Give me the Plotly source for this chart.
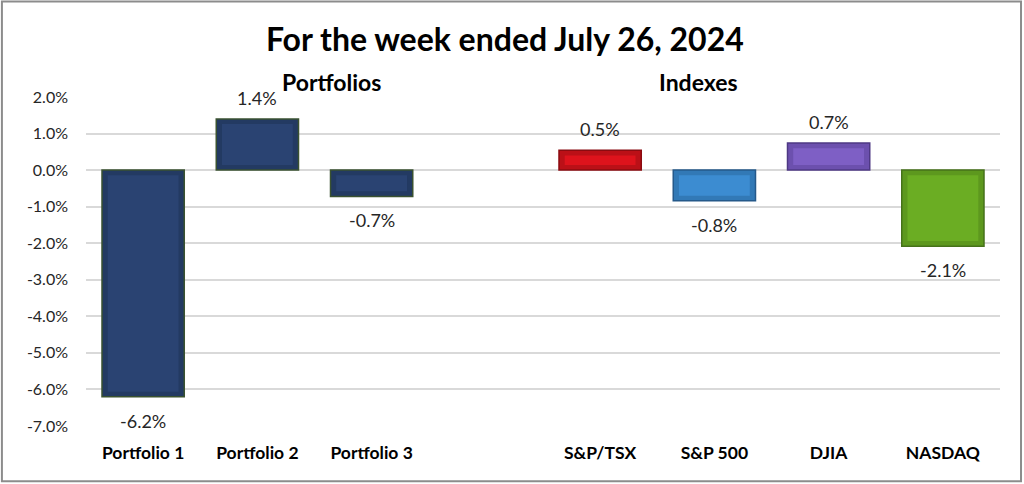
#!/usr/bin/env python
# -*- coding: utf-8 -*-
"""
Weekly returns - portfolios vs indexes (bar chart, Plotly)
"""

import plotly.graph_objects as go

# dane
categories = ["Portfolio 1", "Portfolio 2", "Portfolio 3", " ",
              "S&P/TSX", "S&P 500", "DJIA", "NASDAQ"]
returns = [-6.2, 1.4, -0.72, None, 0.54, -0.84, 0.74, -2.08]
face_colors = ["#2A4372", "#2A4372", "#2A4372", "#FFFFFF",
               "#DE131C", "#3C8CD1", "#7E5FC5", "#6BAD23"]
bevel_colors = ["#233A62", "#233A62", "#233A62", "#FFFFFF",
                "#BB1017", "#3279B6", "#6C50AE", "#5D981E"]
edge_colors = ["#3A5230", "#3A5230", "#3A5230", "#FFFFFF",
               "#8A0B10", "#25598A", "#4E3884", "#46721A"]
y_ticks = [2, 1, 0, -1, -2, -3, -4, -5, -6, -7]
group_titles = ["Portfolios", "Indexes"]
title_text = "For the week ended July 26, 2024"

FONT = "Lato"
BAR_W = 0.72
INSET_X = 0.05    # szerokość fazy (w jednostkach kategorii)
INSET_Y = 0.14    # wysokość fazy (w %)

fig = go.Figure()

# 1. SŁUPKI - obrys (faza)
fig.add_trace(
    go.Bar(
        x=categories,
        y=returns,
        marker=dict(color=bevel_colors, line=dict(color=edge_colors, width=1.5)),
        width=BAR_W,
        showlegend=False,
        hoverinfo="x+y",
    )
)

# 2. SŁUPKI - lico (wewnętrzna część)
inner_base = [None if v is None else (INSET_Y if v > 0 else -INSET_Y) for v in returns]
inner_len = [None if v is None else (v - 2 * INSET_Y if v > 0 else v + 2 * INSET_Y) for v in returns]
fig.add_trace(
    go.Bar(
        x=categories,
        y=inner_len,
        base=inner_base,
        marker=dict(color=face_colors, line=dict(width=0)),
        width=BAR_W - 2 * INSET_X,
        showlegend=False,
        hoverinfo="skip",
    )
)

# 3. ETYKIETY WARTOŚCI (nad / pod słupkiem)
for cat, val in zip(categories, returns):
    if val is None:
        continue
    fig.add_annotation(
        x=cat, y=val,
        text=f"{val:.1f}%",
        showarrow=False,
        yanchor="middle",
        yshift=21 if val > 0 else -24,
        font=dict(family=FONT, size=18, color="#262626"),
    )

# 4. PODTYTUŁY GRUP
for label, xpos in zip(group_titles, [0.212, 0.716]):
    fig.add_annotation(
        xref="paper", yref="paper",
        x=xpos, y=1.045,
        text=f"<b>{label}</b>",
        showarrow=False,
        yanchor="middle",
        font=dict(family=FONT, size=23, color="#000000"),
    )

# 5. RAMKA
fig.add_shape(
    type="rect", xref="paper", yref="paper",
    x0=-0.092, x1=1.023, y0=-0.168, y1=1.29,
    line=dict(color="#8C8C8C", width=2),
)

# 6. LAYOUT
fig.update_layout(
    width=1024, height=484,
    margin=dict(l=86, r=24, t=97, b=58),
    paper_bgcolor="white",
    plot_bgcolor="white",
    title=dict(
        text=f"<b>{title_text}</b>",
        x=0.493, xanchor="center",
        y=0.918, yanchor="middle",
        font=dict(family=FONT, size=32, color="#000000"),
    ),
    barmode="overlay",
    showlegend=False,
)

fig.update_yaxes(
    range=[-7, 2],
    tickvals=y_ticks,
    ticktext=[f"{v:.1f}%" for v in y_ticks],
    showgrid=True, gridcolor="#D9D9D9", gridwidth=1.5,
    zeroline=False,
    showline=False,
    ticklabelstandoff=17,
    tickfont=dict(family=FONT, size=16, color="#262626"),
)
fig.update_xaxes(
    type="category",
    categoryorder="array", categoryarray=categories,
    showgrid=False, showline=False, zeroline=False,
    ticklabelstandoff=14,
    tickfont=dict(family=FONT, size=17.5, color="#000000", weight="bold"),
)

# bez marginesu body, żeby wykres zaczynał się od (0,0)
fig.write_html(
    "out.html",
    config={"displayModeBar": False},
    post_script="document.body.style.margin='0';",
)
